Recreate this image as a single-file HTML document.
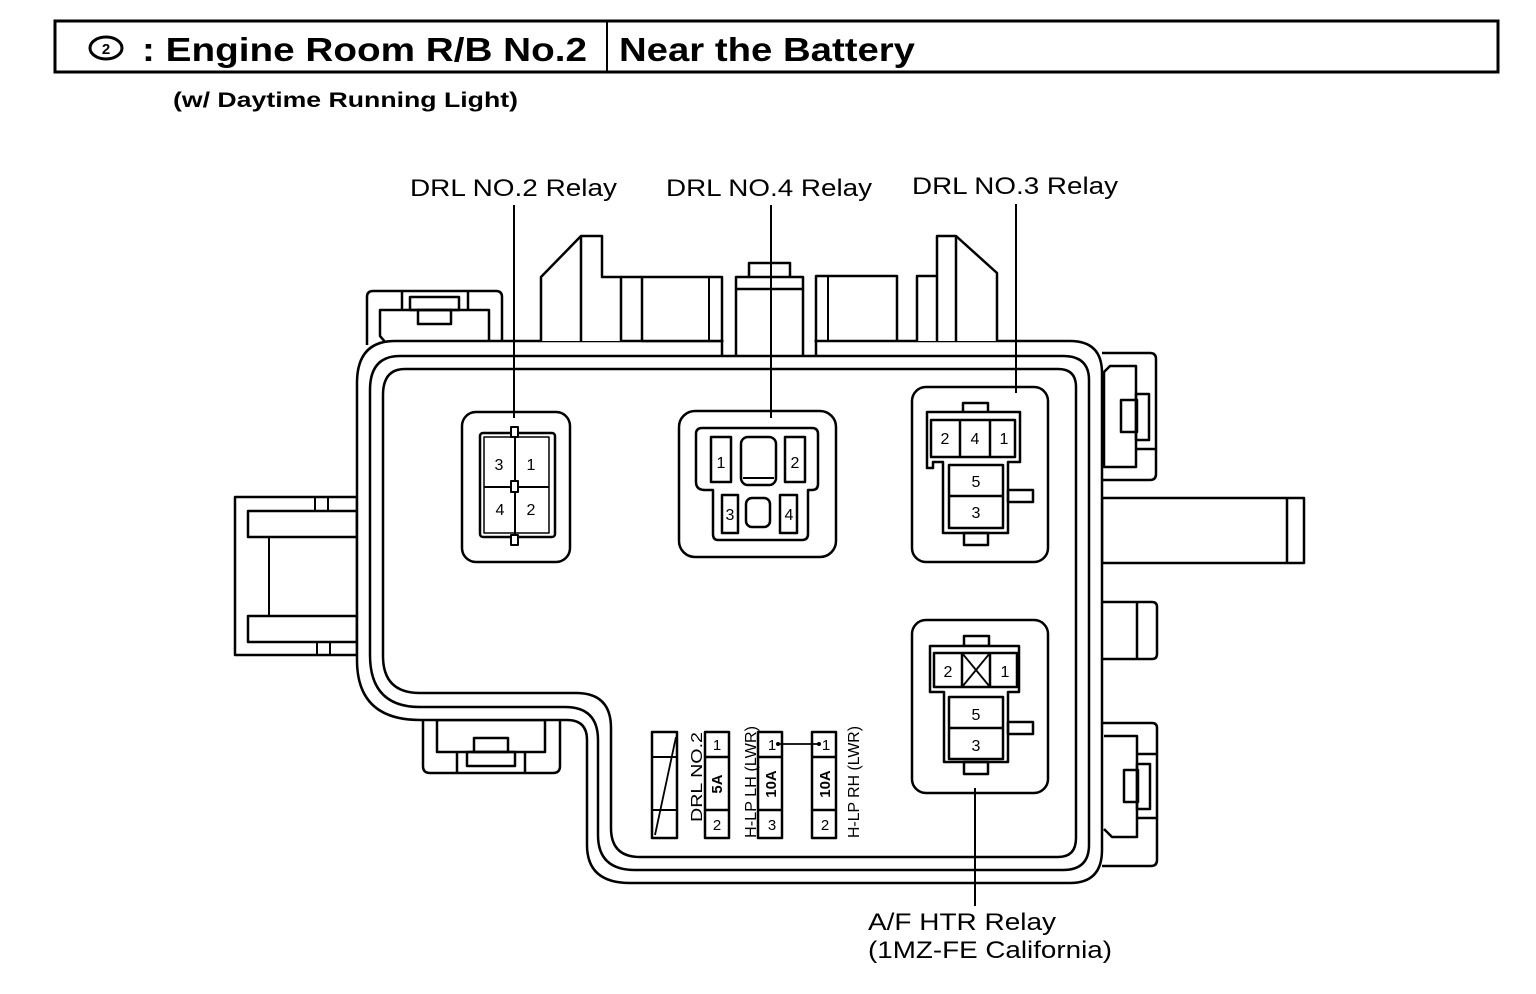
<!DOCTYPE html>
<html><head><meta charset="utf-8"><style>
html,body{margin:0;padding:0;background:#fff;}
svg{display:block;}
text{font-family:"Liberation Sans",Arial,sans-serif;fill:#000;}
</style></head><body>
<svg width="1536" height="994" viewBox="0 0 1536 994" xmlns="http://www.w3.org/2000/svg">
<!-- Header -->
<rect x="55" y="21" width="1443" height="51" fill="none" stroke="#000" stroke-width="3"/>
<line x1="607" y1="21" x2="607" y2="72" stroke="#000" stroke-width="2"/>
<ellipse cx="106" cy="48" rx="16" ry="11" fill="none" stroke="#000" stroke-width="3"/>
<text x="106" y="54" font-size="15" font-weight="bold" text-anchor="middle">2</text>
<text x="142" y="61" font-size="33" font-weight="bold" textLength="445" lengthAdjust="spacingAndGlyphs">: Engine Room R/B No.2</text>
<text x="619" y="61" font-size="33" font-weight="bold" textLength="296" lengthAdjust="spacingAndGlyphs">Near the Battery</text>
<text x="173" y="107" font-size="21" font-weight="bold" textLength="345" lengthAdjust="spacingAndGlyphs">(w/ Daytime Running Light)</text>

<!-- Labels -->
<g font-size="24">
<text x="410" y="196" textLength="207" lengthAdjust="spacingAndGlyphs">DRL NO.2 Relay</text>
<text x="666" y="196" textLength="206" lengthAdjust="spacingAndGlyphs">DRL NO.4 Relay</text>
<text x="912" y="194" textLength="206" lengthAdjust="spacingAndGlyphs">DRL NO.3 Relay</text>
<text x="868" y="930" textLength="188" lengthAdjust="spacingAndGlyphs">A/F HTR Relay</text>
<text x="868" y="958" textLength="244" lengthAdjust="spacingAndGlyphs">(1MZ-FE California)</text>
</g>

<g fill="none" stroke="#000" stroke-width="2.5" stroke-linejoin="round">
<!-- left bracket -->
<rect x="235" y="497" width="122" height="158" fill="#fff"/>
<rect x="248" y="511" width="109" height="26"/>
<rect x="248" y="616" width="109" height="26"/>
<line x1="269" y1="537" x2="269" y2="616" stroke-width="2"/>
<line x1="315" y1="497" x2="315" y2="511" stroke-width="2"/><line x1="328" y1="497" x2="328" y2="511" stroke-width="2"/>
<line x1="317" y1="642" x2="317" y2="655" stroke-width="2"/><line x1="330" y1="642" x2="330" y2="655" stroke-width="2"/>

<!-- bottom tab -->
<path d="M423 720 L423 766 Q423 773 430 773 L553 773 Q560 773 560 766 L560 720" fill="#fff"/>
<rect x="437" y="720" width="108" height="32"/>
<rect x="474" y="738" width="34" height="14"/>
<rect x="467" y="752" width="48" height="14"/>
<line x1="457" y1="752" x2="457" y2="773"/><line x1="525" y1="752" x2="525" y2="773"/>

<!-- right side clips -->
<path d="M1102 353 L1150 353 Q1156 353 1156 359 L1156 474 Q1156 480 1150 480 L1102 480" fill="#fff"/>
<path d="M1110 366 L1136 366 L1136 467 L1104 467 L1104 372 Z"/>
<rect x="1121" y="400" width="16" height="32"/>
<rect x="1136" y="394" width="13" height="46"/>
<line x1="1136" y1="449" x2="1156" y2="449"/>
<rect x="1102" y="498" width="202" height="65" fill="#fff"/>
<line x1="1287" y1="498" x2="1287" y2="563"/>
<path d="M1102 602 L1152 602 Q1157 602 1157 607 L1157 654 Q1157 659 1152 659 L1102 659" fill="#fff"/>
<line x1="1137" y1="602" x2="1137" y2="659"/>
<path d="M1102 723 L1152 723 Q1157 723 1157 728 L1157 860 Q1157 866 1151 866 L1102 866" fill="#fff"/>
<path d="M1104 736 L1137 736 L1137 837 L1112 837 L1104 829"/>
<rect x="1124" y="770" width="14" height="32"/>
<rect x="1137" y="764" width="13" height="45"/>
<line x1="1137" y1="754" x2="1157" y2="754"/>
<line x1="1137" y1="818" x2="1157" y2="818"/>

<!-- left top clip -->
<path d="M367 345 L367 297 Q367 291 373 291 L496 291 Q502 291 502 297 L502 343" fill="#fff"/>
<line x1="402" y1="291" x2="402" y2="310"/><line x1="468" y1="291" x2="468" y2="310"/>
<rect x="410" y="297" width="49" height="13"/>
<rect x="418" y="310" width="33" height="14"/>
<path d="M489 343 L489 310 L380 310 L380 336 L386 343"/>

<!-- body outlines -->
<path d="M395 341 L1070 341 Q1102 341 1102 373 L1102 850 Q1102 883 1070 883 L630 883 Q587 883 587 845 L587 740 Q587 720 567 720 L420 720 Q357 720 357 660 L357 383 Q357 341 395 341 Z" fill="#fff"/>
<path d="M400 356 L1063 356 Q1089 356 1089 380 L1089 845 Q1089 870 1063 870 L635 870 Q598 870 598 835 L598 740 Q598 707 565 707 L420 707 Q370 707 370 655 L370 390 Q370 356 400 356 Z"/>
<path d="M405 369 L1058 369 Q1076 369 1076 387 L1076 838 Q1076 857 1058 857 L640 857 Q611 857 611 828 L611 728 Q611 693 576 693 L420 693 Q383 693 383 656 L383 395 Q383 369 405 369 Z"/>
</g>
<rect x="723.5" y="337" width="91" height="7" fill="#fff"/>
<g fill="none" stroke="#000" stroke-width="2.5" stroke-linejoin="round">
<!-- top connectors -->
<path d="M541 341 L541 277 L581 236 L602 236 L602 277 L621 277 L621 341" fill="#fff"/>
<line x1="581" y1="236" x2="581" y2="341"/>
<rect x="642" y="277" width="80" height="64" fill="#fff"/>
<line x1="621" y1="277" x2="642" y2="277"/>
<line x1="709" y1="277" x2="709" y2="341" stroke-width="2"/>
<line x1="722" y1="341" x2="722" y2="356"/>
<path d="M736 356 L736 277 L803 277 L803 356"/>
<line x1="736" y1="289" x2="803" y2="289"/>
<path d="M749 277 L749 263 L790 263 L790 277"/>
<path d="M816 356 L816 276 L897 276 L897 341"/>
<line x1="828" y1="276" x2="828" y2="341" stroke-width="2"/>
<path d="M917 341 L917 276 L937 276 L937 236 L956 236 L997 273 L997 341" fill="#fff"/>
<line x1="956" y1="236" x2="956" y2="341"/>
<line x1="937" y1="276" x2="937" y2="341"/>

<!-- DRL NO.2 relay -->
<rect x="462" y="412" width="108" height="150" rx="14" fill="#fff"/>
<rect x="480" y="433" width="75" height="104" rx="3"/>
<rect x="484" y="437" width="65" height="96" stroke-width="1.5"/>
<line x1="515" y1="437" x2="515" y2="537" stroke-width="2"/>
<line x1="484" y1="487" x2="549" y2="487" stroke-width="2"/>
<rect x="511" y="427" width="7" height="10" fill="#fff" stroke-width="2"/>
<rect x="511" y="535" width="7" height="10" fill="#fff" stroke-width="2"/>
<rect x="511" y="481" width="7" height="11" fill="#fff" stroke-width="2"/>

<!-- DRL NO.4 relay -->
<rect x="679" y="411" width="157" height="146" rx="16" fill="#fff"/>
<path d="M702 428 L812 428 Q818 428 818 434 L818 484 Q818 490 812 490 L808 490 L808 534 Q808 540 802 540 L718 540 Q713 540 713 534 L713 490 L705 490 Q696 490 696 482 L696 434 Q696 428 702 428 Z"/>
<rect x="711" y="437" width="20" height="45"/>
<rect x="785" y="437" width="20" height="45"/>
<rect x="741" y="437" width="35" height="48" rx="7"/>
<line x1="743" y1="478" x2="774" y2="478" stroke-width="2"/>
<rect x="722" y="495" width="16" height="38"/>
<rect x="780" y="495" width="17" height="38"/>
<rect x="746" y="498" width="24" height="29" rx="6"/>

<!-- DRL NO.3 relay -->
<rect x="912" y="387" width="136" height="175" rx="14" fill="#fff"/>
<rect x="963" y="403" width="25" height="10"/>
<path d="M927 412 L1020 412 L1020 462 L1008 462 L1008 533 L943 533 L943 462 L933 462 L933 468 L927 468 Z" fill="#fff"/>
<rect x="931" y="420" width="84" height="37"/>
<line x1="960" y1="420" x2="960" y2="457"/><line x1="990" y1="420" x2="990" y2="457"/>
<rect x="949" y="465" width="54" height="63"/>
<line x1="949" y1="496" x2="1003" y2="496"/>
<rect x="1008" y="490" width="25" height="12"/>
<rect x="964" y="533" width="24" height="12"/>

<!-- A/F HTR relay -->
<rect x="912" y="620" width="136" height="173" rx="14" fill="#fff"/>
<rect x="964" y="636" width="25" height="10"/>
<path d="M930 646 L1019 646 L1019 692 L1008 692 L1008 762 L944 762 L944 692 L930 692 Z" fill="#fff"/>
<rect x="934" y="653" width="83" height="34"/>
<line x1="962" y1="653" x2="962" y2="687"/><line x1="990" y1="653" x2="990" y2="687"/>
<line x1="962" y1="653" x2="990" y2="687" stroke-width="1.8"/><line x1="990" y1="653" x2="962" y2="687" stroke-width="1.8"/>
<rect x="949" y="697" width="54" height="62"/>
<line x1="949" y1="728" x2="1003" y2="728"/>
<rect x="1008" y="722" width="25" height="12"/>
<rect x="964" y="762" width="24" height="12"/>

<!-- fuses -->
<rect x="652" y="732" width="25" height="106"/>
<line x1="652" y1="757" x2="677" y2="757" stroke-width="2"/><line x1="652" y1="810" x2="677" y2="810" stroke-width="2"/>
<line x1="655" y1="835" x2="676" y2="737" stroke-width="1.8"/>
<rect x="705" y="732" width="24" height="106"/>
<line x1="705" y1="757" x2="729" y2="757"/><line x1="705" y1="810" x2="729" y2="810"/>
<rect x="758" y="732" width="24" height="106"/>
<line x1="758" y1="757" x2="782" y2="757"/><line x1="758" y1="810" x2="782" y2="810"/>
<rect x="812" y="732" width="24" height="106"/>
<line x1="812" y1="757" x2="836" y2="757"/><line x1="812" y1="810" x2="836" y2="810"/>
<line x1="777" y1="744" x2="820" y2="744" stroke-width="1.8"/>

<!-- leader lines -->
<line x1="514" y1="205" x2="514" y2="418" stroke-width="2"/>
<line x1="771" y1="205" x2="771" y2="418" stroke-width="2"/>
<line x1="1016" y1="204" x2="1016" y2="393" stroke-width="2"/>
<line x1="975" y1="788" x2="975" y2="906" stroke-width="2"/>
</g>
<circle cx="778" cy="744" r="2"/><circle cx="819" cy="744" r="2"/>

<!-- relay pin numbers -->
<g font-size="16" text-anchor="middle">
<text x="499" y="470">3</text><text x="531" y="470">1</text>
<text x="500" y="515">4</text><text x="531" y="515">2</text>
<text x="721" y="468">1</text><text x="795" y="468">2</text>
<text x="730" y="520">3</text><text x="789" y="520">4</text>
<text x="945" y="444">2</text><text x="975" y="444">4</text><text x="1004" y="444">1</text>
<text x="976" y="487">5</text><text x="976" y="518">3</text>
<text x="948" y="677">2</text><text x="1005" y="677">1</text>
<text x="976" y="720">5</text><text x="976" y="751">3</text>
</g>
<g font-size="15" text-anchor="middle">
<text x="717" y="750">1</text><text x="717" y="830">2</text>
<text x="772" y="750">1</text><text x="772" y="830">3</text>
<text x="826" y="750">1</text><text x="825" y="830">2</text>
</g>
<g font-size="15" font-weight="bold" text-anchor="middle">
<text transform="translate(722,784) rotate(-90)">5A</text>
<text transform="translate(776,784) rotate(-90)">10A</text>
<text transform="translate(830,784) rotate(-90)">10A</text>
</g>
<g font-size="16" text-anchor="middle">
<text transform="translate(702,777) rotate(-90)" textLength="90" lengthAdjust="spacingAndGlyphs">DRL NO.2</text>
<text transform="translate(756,782) rotate(-90)" textLength="112" lengthAdjust="spacingAndGlyphs">H-LP LH (LWR)</text>
<text transform="translate(859,782) rotate(-90)" textLength="112" lengthAdjust="spacingAndGlyphs">H-LP RH (LWR)</text>
</g>
</svg>
</body></html>
